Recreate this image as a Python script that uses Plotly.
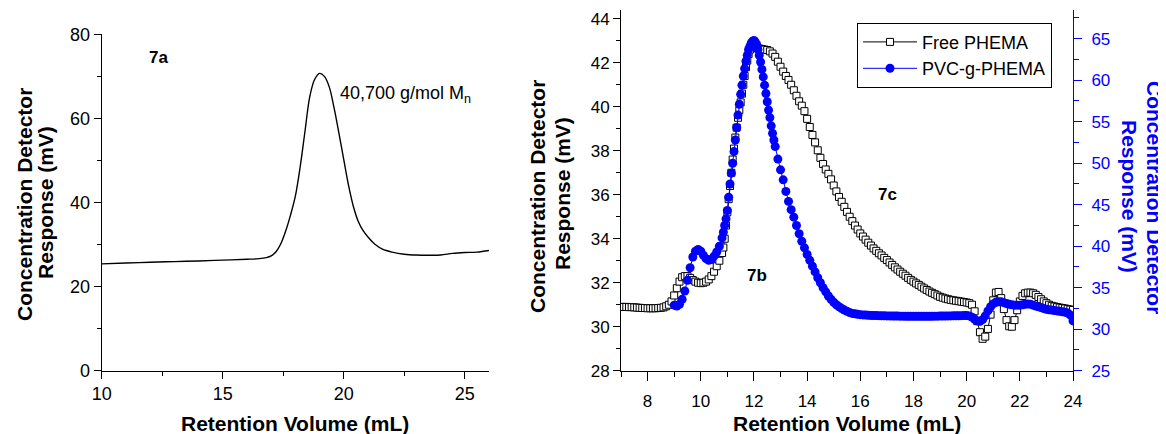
import plotly.graph_objects as go

# ---------------- data ----------------
# Panel 7a : single chromatogram
A_X = [10.0, 11.0, 12.0, 13.0, 14.0, 15.0, 16.0, 16.5, 16.8, 17.0, 17.2, 17.4, 17.6, 17.8,
       18.0, 18.2, 18.4, 18.6, 18.8, 19.0, 19.2, 19.4, 19.6, 19.8, 20.0, 20.2, 20.4, 20.6,
       20.8, 21.0, 21.3, 21.6, 22.0, 22.5, 23.0, 23.5, 24.0, 24.5, 25.0, 25.5, 26.0]
A_Y = [25.4, 25.6, 25.8, 25.95, 26.1, 26.3, 26.5, 26.65, 26.9, 27.3, 28.3, 30.2, 33.2, 37.0,
       41.5, 48.5, 57.0, 65.3, 69.3, 70.7, 70.0, 67.5, 62.5, 56.5, 50.2, 44.0, 39.0, 35.5,
       33.3, 31.8, 30.0, 28.9, 28.2, 27.7, 27.5, 27.45, 27.5, 27.9, 28.1, 28.2, 28.6]

# Panel 7b/7c : Free PHEMA (left axis)
FREE_X = [7.0, 7.1, 7.2, 7.3, 7.4, 7.5, 7.6, 7.7, 7.8, 7.9,
          8.0, 8.1, 8.2, 8.3, 8.4, 8.5, 8.6, 8.7, 8.8, 8.9,
          9.0, 9.1, 9.2, 9.3, 9.4, 9.5, 9.6, 9.7, 9.8, 9.9,
          10.0, 10.1, 10.2, 10.3, 10.4, 10.5, 10.6, 10.7,
          10.8, 10.85, 10.9, 10.95, 11.0, 11.05, 11.1, 11.15, 11.2, 11.25, 11.3, 11.35,
          11.4, 11.45, 11.5, 11.55, 11.6, 11.65, 11.7, 11.75, 11.8, 11.85, 11.9, 11.95, 12.0,
          12.1, 12.2, 12.3, 12.4, 12.5, 12.6, 12.7, 12.8, 12.9,
          13.0, 13.1, 13.2, 13.3, 13.4, 13.5, 13.6, 13.7, 13.8, 13.9,
          14.0, 14.1, 14.2, 14.3, 14.4, 14.5, 14.6, 14.7, 14.8, 14.9,
          15.0, 15.1, 15.2, 15.3, 15.4, 15.5, 15.6, 15.7, 15.8, 15.9,
          16.0, 16.1, 16.2, 16.3, 16.4, 16.5, 16.6, 16.7, 16.8, 16.9,
          17.0, 17.1, 17.2, 17.3, 17.4, 17.5, 17.6, 17.7, 17.8, 17.9,
          18.0, 18.1, 18.2, 18.3, 18.4, 18.5, 18.6, 18.7, 18.8, 18.9,
          19.0, 19.1, 19.2, 19.3, 19.4, 19.5, 19.6, 19.7, 19.8, 19.9,
          20.0, 20.1, 20.2, 20.3, 20.4, 20.5, 20.6, 20.7, 20.8, 20.9,
          21.0, 21.1, 21.2, 21.3, 21.4, 21.5, 21.6, 21.7, 21.8, 21.9,
          22.0, 22.1, 22.2, 22.3, 22.4, 22.5, 22.6, 22.7, 22.8, 22.9,
          23.0, 23.1, 23.2, 23.3, 23.4, 23.5, 23.6, 23.7, 23.8, 23.9,
          24.0]
FREE_Y = [30.90, 30.90, 30.90, 30.89, 30.89, 30.88, 30.87, 30.86, 30.85, 30.85,
          30.84, 30.84, 30.84, 30.84, 30.85, 30.86, 30.88, 30.93, 31.00, 31.15,
          31.42, 31.75, 32.05, 32.25, 32.30, 32.30, 32.22, 32.12, 32.05, 32.00,
          31.98, 32.00, 32.05, 32.15, 32.30, 32.50, 32.75, 33.00,
          33.35, 33.60, 34.00, 34.60, 35.20, 35.80, 36.40, 37.00, 37.60, 38.10, 38.60, 39.05,
          39.50, 39.85, 40.20, 40.60, 41.00, 41.40, 41.80, 42.10, 42.40, 42.60, 42.75, 42.82, 42.85,
          42.75, 42.65, 42.62, 42.60, 42.58, 42.52, 42.42, 42.27, 42.05,
          41.82, 41.60, 41.40, 41.22, 41.00, 40.75, 40.50, 40.25, 40.05, 39.80,
          39.45, 39.08, 38.72, 38.38, 38.02, 37.68, 37.40, 37.15, 36.95, 36.70,
          36.42, 36.15, 35.90, 35.68, 35.45, 35.22, 35.00, 34.80, 34.60, 34.42,
          34.24, 34.10, 33.96, 33.82, 33.69, 33.56, 33.45, 33.34, 33.24, 33.13,
          33.03, 32.92, 32.81, 32.70, 32.60, 32.50, 32.41, 32.32, 32.22, 32.13,
          32.05, 31.97, 31.90, 31.82, 31.74, 31.67, 31.60, 31.54, 31.48, 31.42,
          31.36, 31.32, 31.28, 31.25, 31.22, 31.20, 31.18, 31.16, 31.14, 31.12,
          31.10, 31.07, 31.00, 30.70, 30.25, 29.75, 29.45, 29.55, 29.90, 30.55,
          31.20, 31.55, 31.58, 31.30, 30.80, 30.30, 30.02, 30.00, 30.30, 30.75,
          31.15, 31.40, 31.52, 31.55, 31.55, 31.52, 31.45, 31.35, 31.25, 31.15,
          31.07, 31.00, 30.95, 30.92, 30.89, 30.87, 30.85, 30.83, 30.80, 30.78,
          30.76]

# PVC-g-PHEMA (right axis)
PVC_X = [9.0, 9.1, 9.2, 9.3, 9.4, 9.5, 9.6, 9.7, 9.8, 9.9,
         10.0, 10.1, 10.2, 10.3, 10.4, 10.5, 10.6, 10.7,
         10.8, 10.85, 10.9, 10.95, 11.0, 11.05, 11.1, 11.15, 11.2, 11.25, 11.3, 11.35,
         11.4, 11.45, 11.5, 11.55, 11.6, 11.65, 11.7, 11.75, 11.8, 11.85, 11.9, 11.95,
         12.0, 12.05, 12.1, 12.15, 12.2, 12.25, 12.3, 12.35, 12.4, 12.45, 12.5, 12.55,
         12.6, 12.65, 12.7, 12.75, 12.8,
         12.9, 13.0, 13.1, 13.2, 13.3, 13.4, 13.5, 13.6, 13.7, 13.8, 13.9,
         14.0, 14.1, 14.2, 14.3, 14.4, 14.5, 14.6, 14.7, 14.8, 14.9,
         15.0, 15.1, 15.2, 15.3, 15.4, 15.5, 15.6, 15.7, 15.8, 15.9,
         16.0, 16.1, 16.2, 16.3, 16.4, 16.5, 16.6, 16.7, 16.8, 16.9,
         17.0, 17.1, 17.2, 17.3, 17.4, 17.5, 17.6, 17.7, 17.8, 17.9,
         18.0, 18.1, 18.2, 18.3, 18.4, 18.5, 18.6, 18.7, 18.8, 18.9,
         19.0, 19.1, 19.2, 19.3, 19.4, 19.5, 19.6, 19.7, 19.8, 19.9,
         20.0, 20.1, 20.2, 20.3, 20.4, 20.5, 20.6, 20.7, 20.8, 20.9,
         21.0, 21.1, 21.2, 21.3, 21.4, 21.5, 21.6, 21.7, 21.8, 21.9,
         22.0, 22.1, 22.2, 22.3, 22.4, 22.5, 22.6, 22.7, 22.8, 22.9,
         23.0, 23.1, 23.2, 23.3, 23.4, 23.5, 23.6, 23.7, 23.8, 23.9,
         24.0]
PVC_Y = [32.9, 32.8, 33.0, 33.6, 34.6, 35.9, 37.4, 38.7, 39.4, 39.6,
         39.4, 38.9, 38.5, 38.3, 38.4, 38.8, 39.3, 40.0,
         41.0, 41.7, 42.5, 43.3, 44.3, 45.9, 47.5, 48.8, 50.0, 51.4, 52.8, 54.3,
         55.8, 57.1, 58.3, 59.4, 60.5, 61.4, 62.3, 63.0, 63.7, 64.1, 64.5, 64.7,
         64.8, 64.6, 64.3, 63.7, 63.0, 62.2, 61.3, 60.4, 59.4, 58.4, 57.4, 56.4,
         55.5, 54.5, 53.6, 52.8, 52.0,
         50.5, 49.2, 48.0, 46.6, 45.4, 44.4, 43.5, 42.5, 41.5, 40.6, 39.8,
         39.0, 38.3, 37.6, 36.9, 36.2, 35.6, 35.0, 34.5, 34.0, 33.6,
         33.25, 32.95, 32.7, 32.5, 32.3, 32.15, 32.0, 31.9, 31.85, 31.8,
         31.75, 31.72, 31.7, 31.68, 31.66, 31.65, 31.64, 31.63, 31.62, 31.61,
         31.6, 31.6, 31.59, 31.58, 31.58, 31.57, 31.57, 31.56, 31.56, 31.55,
         31.55, 31.55, 31.55, 31.55, 31.55, 31.55, 31.56, 31.56, 31.57, 31.57,
         31.58, 31.58, 31.59, 31.6, 31.6, 31.61, 31.62, 31.62, 31.63, 31.64,
         31.65, 31.6, 31.45, 31.2, 31.0, 30.95, 31.15, 31.6, 32.2, 32.7,
         33.05, 33.25, 33.3, 33.3, 33.2, 33.1, 33.0, 32.95, 32.9, 32.9,
         32.9, 32.95, 33.0, 33.05, 33.0, 32.9, 32.8, 32.7, 32.6, 32.5,
         32.4, 32.35, 32.3, 32.25, 32.2, 32.15, 32.1, 32.05, 31.95, 31.7,
         31.0]

A_XTICKS = [10, 15, 20, 25]
A_YTICKS = [0, 20, 40, 60, 80]
B_XTICKS = [8, 10, 12, 14, 16, 18, 20, 22, 24]
B_YTICKS = [28, 30, 32, 34, 36, 38, 40, 42, 44]
B_Y2TICKS = [25, 30, 35, 40, 45, 50, 55, 60, 65]

# ---------------- figure ----------------
# the page body has an 8px margin, so the figure is drawn 8px smaller and
# positions below are given in window pixels then shifted.
OX, OY = 8, 8
W, H = 1166 - OX, 434 - OY
FONT = "Liberation Sans, Arial, sans-serif"
BLUE = "#0000ff"


def px(x):
    return (x - OX) / W


def py(y):
    return 1 - (y - OY) / H


fig = go.Figure()

fig.add_trace(go.Scatter(x=A_X, y=A_Y, mode="lines", line=dict(color="black", width=1.4, shape="spline"),
                         xaxis="x", yaxis="y", showlegend=False, hoverinfo="skip"))

fig.add_trace(go.Scatter(x=FREE_X, y=FREE_Y, mode="lines+markers", name="Free PHEMA",
                         line=dict(color="black", width=1),
                         marker=dict(symbol="square", size=7, color="white",
                                     line=dict(color="black", width=1)),
                         xaxis="x2", yaxis="y2"))

fig.add_trace(go.Scatter(x=PVC_X, y=PVC_Y, mode="lines+markers", name="PVC-g-PHEMA",
                         line=dict(color=BLUE, width=1),
                         marker=dict(symbol="circle", size=9, color=BLUE, line=dict(width=0)),
                         xaxis="x2", yaxis="y3"))

common = dict(showgrid=False, zeroline=False, showline=True, linewidth=1, ticks="outside",
              tickwidth=1, tickcolor="black", linecolor="black")

fig.update_layout(
    width=W, height=H, margin=dict(l=0, r=0, t=0, b=0),
    template="none", paper_bgcolor="white", plot_bgcolor="rgba(0,0,0,0)",
    font=dict(family=FONT, color="black"),
    xaxis=dict(domain=[px(101.7), px(489)], range=[10, 26], tickvals=A_XTICKS, ticklen=7,
               tickfont=dict(size=18), anchor="y",
               minor=dict(dtick=2.5, tick0=10, ticks="outside", ticklen=4, tickcolor="black"), **common),
    yaxis=dict(domain=[py(370.7), py(34.3)], range=[0, 80], tickvals=A_YTICKS, ticklen=7,
               tickfont=dict(size=18), anchor="x",
               minor=dict(dtick=10, tick0=0, ticks="outside", ticklen=4, tickcolor="black"), **common),
    xaxis2=dict(domain=[px(621), px(1073)], range=[7, 24], tickvals=B_XTICKS, ticklen=9,
                tickfont=dict(size=17), anchor="y2", ticklabelstandoff=6,
                minor=dict(dtick=1, tick0=7, ticks="outside", ticklen=5, tickcolor="black"), **common),
    yaxis2=dict(domain=[py(370.7), py(10)], range=[28, 44.4], tickvals=B_YTICKS, ticklen=7,
                tickfont=dict(size=17), anchor="x2",
                minor=dict(dtick=1, tick0=28, ticks="outside", ticklen=4, tickcolor="black"), **common),
    yaxis3=dict(domain=[py(370.7), py(10)], range=[25, 68.46], tickvals=B_Y2TICKS, ticklen=8,
                tickfont=dict(size=17, color=BLUE), anchor="x2", overlaying="y2", side="right",
                showgrid=False, zeroline=False, showline=True, linewidth=1, linecolor=BLUE,
                ticks="outside", tickwidth=1, tickcolor=BLUE, ticklabelstandoff=6,
                minor=dict(dtick=2.5, tick0=25, ticks="outside", ticklen=5, tickcolor=BLUE)),
    legend=dict(x=px(857), y=py(22.7), xanchor="left", yanchor="top", bgcolor="white",
                bordercolor="black", borderwidth=1, font=dict(size=18, family=FONT),
                itemwidth=54, tracegroupgap=0),
)

TITLE = dict(size=21, family=FONT)
ann = [
    # panel a
    dict(x=px(295), y=py(423), text="<b>Retention Volume (mL)</b>", textangle=0),
    dict(x=px(24), y=py(205), text="<b>Concentration Detector</b>", textangle=-90),
    dict(x=px(45), y=py(203), text="<b>Response (mV)</b>", textangle=-90),
    # panel b/c
    dict(x=px(847), y=py(423), text="<b>Retention Volume (mL)</b>", textangle=0),
    dict(x=px(537), y=py(197), text="<b>Concentration Detector</b>", textangle=-90),
    dict(x=px(562), y=py(194), text="<b>Response (mV)</b>", textangle=-90),
    dict(x=px(1155), y=py(197), text="<b>Concentration Detector</b>", textangle=90, color=BLUE),
    dict(x=px(1129), y=py(196), text="<b>Response (mV)</b>", textangle=90, color=BLUE),
]
for a in ann:
    col = a.pop("color", "black")
    fig.add_annotation(xref="paper", yref="paper", showarrow=False, xanchor="center", yanchor="middle",
                       font=dict(TITLE, color=col), **a)

# in-plot labels
fig.add_annotation(xref="x", yref="y", x=12.33, y=74.4, text="<b>7a</b>", showarrow=False,
                   font=dict(size=17, family=FONT, color="black"))
fig.add_annotation(xref="x", yref="y", x=19.77, y=65.6, text="40,700 g/mol M<sub>n</sub>", showarrow=False,
                   xanchor="left", yanchor="middle", font=dict(size=18, family=FONT, color="black"))
fig.add_annotation(xref="x2", yref="y2", x=12.13, y=32.35, text="<b>7b</b>", showarrow=False,
                   font=dict(size=17, family=FONT, color="black"))
fig.add_annotation(xref="x2", yref="y2", x=17.04, y=36.03, text="<b>7c</b>", showarrow=False,
                   font=dict(size=17, family=FONT, color="black"))

fig.write_html("out.html")
